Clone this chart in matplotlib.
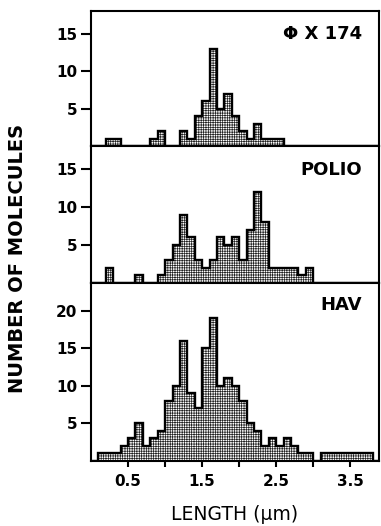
import numpy as np
import matplotlib
matplotlib.use('Agg')
import matplotlib.pyplot as plt

# bin edges, 0.1 um wide bins from 0.0 to 3.9
edges = np.round(np.arange(0, 3.95, 0.1), 2)

# number of molecules per bin
phi_counts = [0, 0, 1, 1, 0, 0, 0, 0, 1, 2,
              0, 0, 2, 1, 4, 6, 13, 5, 7, 4,
              2, 1, 3, 1, 1, 1, 0, 0, 0, 0,
              0, 0, 0, 0, 0, 0, 0, 0, 0]
polio_counts = [0, 0, 2, 0, 0, 0, 1, 0, 0, 1,
                3, 5, 9, 6, 3, 2, 3, 6, 5, 6,
                3, 7, 12, 8, 2, 2, 2, 2, 1, 2,
                0, 0, 0, 0, 0, 0, 0, 0, 0]
hav_counts = [0, 1, 1, 1, 2, 3, 5, 2, 3, 4,
              8, 10, 16, 9, 7, 15, 19, 10, 11, 10,
              8, 5, 4, 2, 3, 2, 3, 2, 1, 1,
              0, 1, 1, 1, 1, 1, 1, 1, 0]

panel_names = ['\u03a6 X 174', 'POLIO', 'HAV']
panel_counts = [phi_counts, polio_counts, hav_counts]
panel_yticks = [[5, 10, 15], [5, 10, 15], [5, 10, 15, 20]]
panel_ymax = [18, 18, 23.7]

xticks = [0.5, 1.0, 1.5, 2.0, 2.5, 3.0, 3.5]
xticklabels = ['0.5', '', '1.5', '', '2.5', '', '3.5']

plt.rcParams['font.family'] = ['DejaVu Sans']
plt.rcParams['hatch.linewidth'] = 0.5

W, H = 381, 526
fig = plt.figure(figsize=(W / 100, H / 100), dpi=100)

# axes boxes in pixels: (top, bottom)
left_px, right_px = 91, 378.5
boxes = [(11, 146), (146, 283), (283, 461)]
text_y = [0.826, 0.828, 0.876]

axes = []
for i in range(3):
    top, bot = boxes[i]
    ax = fig.add_axes([left_px / W, 1 - bot / H, (right_px - left_px) / W, (bot - top) / H])
    counts = np.array(panel_counts[i])

    # stippled bars, then thick outline on top
    ax.bar(edges[:-1], counts, width=0.1, align='edge', color='white',
           edgecolor='#222222', linewidth=0, hatch='+++++++')
    ax.stairs(counts, edges, baseline=0, color='black', linewidth=1.7)

    ax.set_xlim(0, 3.88)
    ax.set_ylim(0, panel_ymax[i])
    ax.set_yticks(panel_yticks[i])
    ax.set_xticks(xticks)
    if i == 2:
        ax.set_xticklabels(xticklabels)
    else:
        ax.set_xticklabels([])

    for s in ax.spines.values():
        s.set_linewidth(1.5)
    ax.tick_params(axis='y', direction='out', length=7, width=1.5, pad=3,
                   labelsize=11)
    ax.tick_params(axis='x', direction='out', length=4.5, width=1.5, pad=5,
                   labelsize=11)
    for lab in ax.get_xticklabels() + ax.get_yticklabels():
        lab.set_fontweight('bold')

    ax.text(0.943, text_y[i], panel_names[i], transform=ax.transAxes,
            ha='right', va='center', fontsize=13, fontweight='bold')
    axes.append(ax)

fig.text(18 / W, 1 - 258 / H, 'NUMBER OF MOLECULES', rotation=90,
         ha='center', va='center', fontsize=14, fontweight='bold')
fig.text(235 / W, 1 - 515 / H, 'LENGTH (\u03bcm)', ha='center', va='center',
         fontsize=13.5)

fig.savefig('out.png', dpi=100)
